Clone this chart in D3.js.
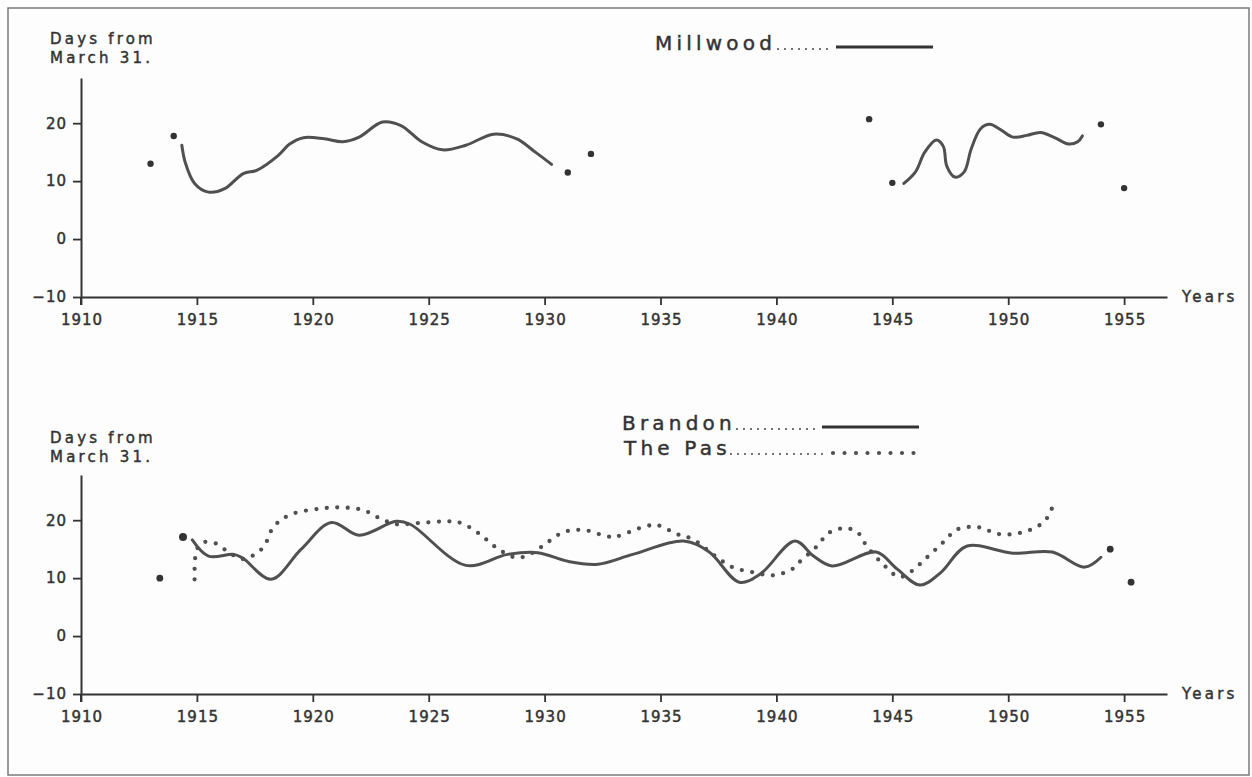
<!DOCTYPE html>
<html>
<head>
<meta charset="utf-8">
<script src="https://cdn.jsdelivr.net/npm/d3@7"></script>
<style>
  html, body { margin: 0; padding: 0; background: #fdfdfd; }
  svg { display: block; }
  text { font-family: "DejaVu Sans", sans-serif; fill: #333; stroke: #333; stroke-width: 0.45px; }
</style>
</head>
<body>
<svg id="chart" width="1252" height="777"></svg>
<script>
// ---------- DATA ----------
const xTickYears = [1910, 1915, 1920, 1925, 1930, 1935, 1940, 1945, 1950, 1955];
const yTickValues = [-10, 0, 10, 20];
const yAxisTitle = ["Days from", "March 31."];
const xAxisTitle = "Years";

// Millwood: smoothed curve segments (year, days from March 31)
const millwoodEarly = [
  [1914.35, 16.2], [1914.5, 13.2], [1914.9, 9.6], [1915.5, 8.1], [1916.2, 8.7],
  [1917.0, 11.3], [1917.6, 11.9], [1918.5, 14.4], [1919.0, 16.4], [1919.6, 17.5],
  [1920.5, 17.3], [1921.3, 16.8], [1922.0, 17.6], [1923.0, 20.2], [1923.8, 19.6],
  [1924.7, 16.8], [1925.6, 15.4], [1926.6, 16.2], [1927.8, 18.1], [1928.8, 17.3],
  [1929.6, 15.0], [1930.3, 12.9]
];
const millwoodLate = [
  [1945.5, 9.6], [1946.0, 11.6], [1946.4, 15.0], [1946.9, 17.1], [1947.2, 16.0],
  [1947.35, 12.6], [1947.7, 10.7], [1948.1, 11.6], [1948.4, 15.5], [1948.8, 19.0],
  [1949.2, 19.8], [1949.7, 18.8], [1950.2, 17.6], [1950.8, 17.9], [1951.4, 18.4],
  [1952.0, 17.5], [1952.6, 16.4], [1953.0, 16.8], [1953.2, 17.8]
];
const millwoodYears = [1913, 1914, 1931, 1932, 1944, 1945, 1954, 1955];
const millwoodSingle = [13, 17.8, 11.5, 14.7, 20.7, 9.7, 19.8, 8.8];

// Brandon (solid) and The Pas (dotted) smoothed curves
const brandon = [
  [1914.8, 16.6], [1915.5, 13.8], [1916.6, 14.1], [1917.0, 13.4], [1918.2, 9.8],
  [1919.5, 15.0], [1920.8, 19.6], [1922.0, 17.4], [1923.6, 19.8], [1924.2, 19.3],
  [1926.6, 12.2], [1928.4, 14.1], [1929.7, 14.4], [1931.0, 12.9], [1932.3, 12.4],
  [1933.8, 14.1], [1936.0, 16.4], [1937.1, 14.5], [1938.4, 9.3], [1939.3, 10.7],
  [1940.8, 16.4], [1941.6, 13.8], [1942.4, 12.1], [1944.3, 14.5], [1945.2, 11.6],
  [1946.2, 8.8], [1947.1, 11.0], [1948.2, 15.5], [1950.2, 14.3], [1951.9, 14.5],
  [1953.3, 11.9], [1954.0, 13.6]
];
const thePas = [
  [1914.9, 9.8], [1915.0, 15.0], [1915.3, 16.2], [1915.8, 16.0], [1916.5, 14.1],
  [1917.0, 13.3], [1917.5, 14.1], [1917.9, 15.5], [1918.3, 18.8], [1919.0, 20.9],
  [1920.3, 22.0], [1921.3, 22.2], [1922.2, 21.7], [1922.9, 20.3], [1923.6, 19.3],
  [1924.5, 19.5], [1925.9, 19.8], [1926.4, 19.5], [1927.2, 17.6], [1927.9, 15.3],
  [1928.7, 13.6], [1929.2, 13.8], [1929.9, 15.5], [1930.8, 17.9], [1931.7, 18.3],
  [1932.7, 17.2], [1933.1, 17.2], [1934.4, 19.0], [1934.9, 19.1], [1935.7, 17.6],
  [1936.4, 16.7], [1937.3, 14.0], [1938.1, 11.9], [1939.0, 11.0], [1939.9, 10.5],
  [1940.7, 11.6], [1941.0, 12.8], [1941.7, 15.3], [1942.3, 17.9], [1943.0, 18.6],
  [1943.5, 17.9], [1943.9, 15.5], [1944.6, 12.4], [1945.3, 10.2], [1945.8, 11.1],
  [1946.5, 13.6], [1947.2, 16.2], [1947.8, 18.4], [1948.7, 18.8], [1949.6, 17.6],
  [1950.5, 17.8], [1951.3, 19.0], [1951.7, 20.5], [1951.9, 22.2]
];
const lowerYears = [1913.4, 1914.4, 1954.4, 1955.3];
const lowerSingle = [10, 17.1, 15, 9.3];

const legendTop = ["Millwood"];
const legendBottom = ["Brandon", "The Pas"];

// ---------- DRAWING ----------
const svg = d3.select("#chart");
const ink = "#333";
const lineInk = "#505050";

// frame
svg.append("rect").attr("x", 8).attr("y", 8).attr("width", 1241).attr("height", 767)
  .attr("fill", "none").attr("stroke", "#7a7a7a").attr("stroke-width", 1.5);

const x = d3.scaleLinear().domain([1910, 1956.85]).range([81, 1167]);
const panels = [
  { y: d3.scaleLinear().domain([-10, 27.8]).range([297, 78]), titleY: 44 },
  { y: d3.scaleLinear().domain([-10, 27.8]).range([694, 475]), titleY: 443 }
];

const line = (y) => d3.line().x(d => x(d[0])).y(d => y(d[1])).curve(d3.curveCatmullRom.alpha(0.5));

panels.forEach((p) => {
  const g = svg.append("g");
  const y = p.y;
  const xa = g.append("g").attr("transform", `translate(0,${y(-10)})`)
    .call(d3.axisBottom(x).tickValues(xTickYears).tickFormat(d3.format("d"))
      .tickSize(8).tickSizeOuter(0).tickPadding(9));
  const ya = g.append("g").attr("transform", `translate(${x(1910)},0)`)
    .call(d3.axisLeft(y).tickValues(yTickValues).tickSize(8).tickSizeOuter(0).tickPadding(6));
  [xa, ya].forEach(a => {
    a.selectAll("path.domain").attr("stroke", ink).attr("stroke-width", 2);
    a.selectAll(".tick line").attr("stroke", ink).attr("stroke-width", 1.8);
    a.selectAll(".tick text").attr("fill", ink).style("font-size", "15px")
      .style("letter-spacing", "1px").style("font-family", "DejaVu Sans, sans-serif");
  });
  xa.selectAll(".tick text").attr("dx", "0.5px");
  g.append("line").attr("x1", x(1910)).attr("x2", x(1910))
    .attr("y1", y(-10)).attr("y2", y(-10) + 8)
    .attr("stroke", ink).attr("stroke-width", 2);
  yAxisTitle.forEach((t, i) => {
    g.append("text").attr("x", 50).attr("y", p.titleY + i * 19).text(t)
      .style("font-size", "15px").style("letter-spacing", "3.2px");
  });
  g.append("text").attr("x", 1182).attr("y", y(-10) + 5).text(xAxisTitle)
    .style("font-size", "15px").style("letter-spacing", "3.2px");
});

// --- top panel marks ---
const yT = panels[0].y;
[millwoodEarly, millwoodLate].forEach(seg => {
  svg.append("path").attr("d", line(yT)(seg)).attr("fill", "none")
    .attr("stroke", lineInk).attr("stroke-width", 3).attr("stroke-linecap", "round");
});
svg.append("g").selectAll("circle").data(millwoodYears).join("circle")
  .attr("cx", d => x(d)).attr("cy", (d, i) => yT(millwoodSingle[i])).attr("r", 3.2).attr("fill", ink);

// --- bottom panel marks ---
const yB = panels[1].y;
svg.append("path").attr("d", line(yB)(thePas)).attr("fill", "none")
  .attr("stroke", lineInk).attr("stroke-width", 4.3).attr("stroke-linecap", "round")
  .attr("stroke-dasharray", "0 10.5");
svg.append("path").attr("d", line(yB)(brandon)).attr("fill", "none")
  .attr("stroke", lineInk).attr("stroke-width", 3).attr("stroke-linecap", "round");
svg.append("g").selectAll("circle").data(lowerYears).join("circle")
  .attr("cx", d => x(d)).attr("cy", (d, i) => yB(lowerSingle[i])).attr("r", (d, i) => i === 1 ? 4 : 3.4)
  .attr("fill", ink);

// --- legends ---
function legendText(label, xx, yy) {
  return svg.append("text").attr("x", xx).attr("y", yy).text(label)
    .style("font-size", "20px").style("letter-spacing", "4.2px");
}
function leader(x1, x2, yy) {
  svg.append("line").attr("x1", x1).attr("x2", x2).attr("y1", yy).attr("y2", yy)
    .attr("stroke", ink).attr("stroke-width", 1.8).attr("stroke-linecap", "round")
    .attr("stroke-dasharray", "0 7");
}
legendText(legendTop[0], 655, 50);
leader(778, 832, 49);
svg.append("line").attr("x1", 836).attr("x2", 933).attr("y1", 47).attr("y2", 47)
  .attr("stroke", ink).attr("stroke-width", 3);

legendText(legendBottom[0], 622, 430);
leader(737, 818, 429);
svg.append("line").attr("x1", 822).attr("x2", 919).attr("y1", 427).attr("y2", 427)
  .attr("stroke", ink).attr("stroke-width", 3);

legendText(legendBottom[1], 624, 455);
leader(731, 824, 454);
svg.append("line").attr("x1", 833).attr("x2", 916).attr("y1", 453).attr("y2", 453)
  .attr("stroke", lineInk).attr("stroke-width", 4.2).attr("stroke-linecap", "round")
  .attr("stroke-dasharray", "0 11.5");
</script>
</body>
</html>
